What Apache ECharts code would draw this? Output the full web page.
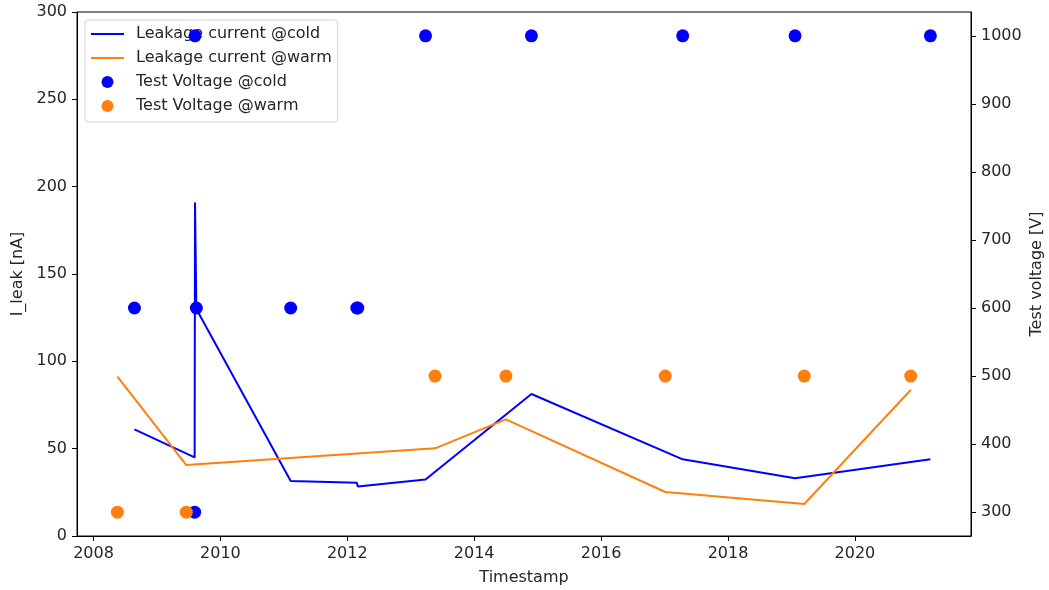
<!DOCTYPE html>
<html>
<head>
<meta charset="utf-8">
<title>Leakage current and test voltage</title>
<script src="https://cdn.jsdelivr.net/npm/echarts@6/dist/echarts.min.js"></script>
<style>
  html, body { margin: 0; padding: 0; background: #fff; }
  #chart { width: 1049px; height: 590px; }
</style>
</head>
<body>
<div id="chart"></div>
<script>
// Measurement timestamps as decimal years
const coldDates = [2008.645, 2009.594, 2009.600, 2009.621, 2011.108, 2012.150, 2012.166, 2013.233, 2014.902, 2017.286, 2019.057, 2021.190];
const coldCurrent = [61, 45, 191, 130, 31.5, 30.5, 28.4, 32.4, 81.3, 43.9, 33.0, 43.9];   // nA
const coldVoltage = [600, 300, 1000, 600, 600, 600, 600, 1000, 1000, 1000, 1000, 1000];   // V

const warmDates = [2008.377, 2009.463, 2013.383, 2014.500, 2017.011, 2019.202, 2020.880];
const warmCurrent = [91.2, 40.6, 50.2, 66.8, 25.2, 18.3, 83.6];   // nA
const warmVoltage = [300, 300, 500, 500, 500, 500, 500];          // V

const yearTicks = [2008, 2010, 2012, 2014, 2016, 2018, 2020];
const currentTicks = [0, 50, 100, 150, 200, 250, 300];
const voltageTicks = [300, 400, 500, 600, 700, 800, 900, 1000];

const pairs = (xs, ys) => xs.map((x, i) => [x, ys[i]]);

const FONT = 'DejaVu Sans';
const FS = 16;
const TEXT = '#262626';
const BLUE = '#0000ff';
const ORANGE = '#ff7f0e';
// thin horizontal bar used as the legend sample for line series
const LINE_ICON = 'path://M0,0H33V2H0Z';

const axisLine = { show: true, onZero: false, lineStyle: { color: '#000', width: 1 } };
const axisTick = (vals) => ({ show: true, inside: false, length: 5, customValues: vals, lineStyle: { color: '#000', width: 1 } });
const axisLabel = (vals) => ({
  customValues: vals, margin: 10, color: TEXT, fontFamily: FONT, fontSize: FS,
  formatter: v => String(Math.round(v))
});
const nameStyle = { color: TEXT, fontFamily: FONT, fontSize: FS };

const chart = echarts.init(document.getElementById('chart'), null, { renderer: 'canvas' });
chart.setOption({
  animation: false,
  backgroundColor: '#fff',
  textStyle: { fontFamily: FONT },
  grid: {
    left: 77, right: 78, top: 12, bottom: 54,
    containLabel: false, outerBoundsMode: 'none',
    show: true, borderColor: '#000', borderWidth: 1, backgroundColor: 'transparent'
  },
  legend: {
    left: 85, top: 20, orient: 'vertical',
    padding: [5, 6, 7, 6], itemGap: 6, itemWidth: 33, itemHeight: 12,
    backgroundColor: 'rgba(255,255,255,0.85)', borderColor: '#d4d4d4', borderWidth: 1, borderRadius: 3,
    textStyle: { color: TEXT, fontFamily: FONT, fontSize: FS, lineHeight: 18, padding: [0, 0, 0, 7] },
    data: [
      { name: 'Leakage current @cold', icon: LINE_ICON },
      { name: 'Leakage current @warm', icon: LINE_ICON },
      { name: 'Test Voltage @cold', icon: 'circle' },
      { name: 'Test Voltage @warm', icon: 'circle' }
    ]
  },
  xAxis: {
    type: 'value', min: 2007.74, max: 2021.83,
    name: 'Timestamp', nameLocation: 'middle', nameGap: 34, nameMoveOverlap: false, nameTextStyle: nameStyle,
    axisLine: axisLine, axisTick: axisTick(yearTicks), axisLabel: axisLabel(yearTicks),
    splitLine: { show: false }
  },
  yAxis: [
    {
      type: 'value', min: 0, max: 300, position: 'left',
      name: 'I_leak [nA]', nameLocation: 'middle', nameGap: 51, nameRotate: 90, nameMoveOverlap: false, nameTextStyle: nameStyle,
      axisLine: axisLine, axisTick: axisTick(currentTicks), axisLabel: axisLabel(currentTicks),
      splitLine: { show: false }
    },
    {
      type: 'value', min: 265, max: 1035, position: 'right',
      name: 'Test voltage [V]', nameLocation: 'middle', nameGap: 58, nameRotate: 90, nameMoveOverlap: false, nameTextStyle: nameStyle,
      axisLine: axisLine, axisTick: axisTick(voltageTicks), axisLabel: axisLabel(voltageTicks),
      splitLine: { show: false }
    }
  ],
  series: [
    {
      name: 'Leakage current @cold', type: 'line', yAxisIndex: 0,
      data: pairs(coldDates, coldCurrent), symbol: 'none', color: BLUE,
      lineStyle: { color: BLUE, width: 2 }, z: 2
    },
    {
      name: 'Leakage current @warm', type: 'line', yAxisIndex: 0,
      data: pairs(warmDates, warmCurrent), symbol: 'none', color: ORANGE,
      lineStyle: { color: ORANGE, width: 2 }, z: 2
    },
    {
      name: 'Test Voltage @cold', type: 'scatter', yAxisIndex: 1,
      data: pairs(coldDates, coldVoltage), symbol: 'circle', symbolSize: 13,
      itemStyle: { color: BLUE, opacity: 1 }, z: 6
    },
    {
      name: 'Test Voltage @warm', type: 'scatter', yAxisIndex: 1,
      data: pairs(warmDates, warmVoltage), symbol: 'circle', symbolSize: 13,
      itemStyle: { color: ORANGE, opacity: 1 }, z: 6
    }
  ]
});
</script>
</body>
</html>
